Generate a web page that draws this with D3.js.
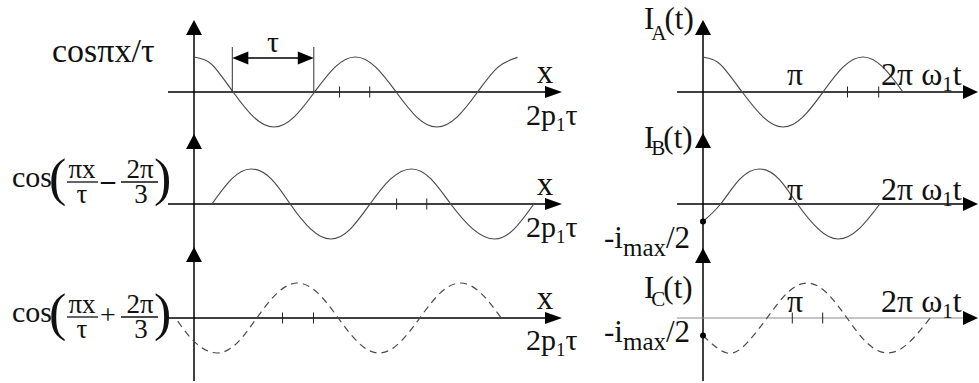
<!DOCTYPE html>
<html>
<head>
<meta charset="utf-8">
<script src="https://cdn.jsdelivr.net/npm/d3@7"></script>
<style>
  body { margin: 0; background: #fff; }
</style>
</head>
<body>
<svg id="chart" width="979" height="383"></svg>
<script>
// ---- Spatial distributions (x in units of the pole pitch τ) ----
const spaceXA = [0, 0.12, 0.25, 0.48, 0.73, 0.98, 1.23, 1.48, 1.73, 1.98, 2.23, 2.48, 2.73, 2.98, 3.23, 3.48, 3.73, 3.97];
const spaceYA = [1, 0.93, 0.71, 0, -0.71, -1, -0.71, 0, 0.71, 1, 0.71, 0, -0.71, -1, -0.71, 0, 0.71, 0.99];
const spaceXB = [0.22, 0.46, 0.7, 0.95, 1.18, 1.43, 1.68, 1.92, 2.16, 2.41, 2.67, 2.91, 3.15, 3.42, 3.69, 3.93, 4.17];
const spaceYB = [0, 0.71, 1, 0.71, 0, -0.71, -1, -0.71, 0, 0.71, 1, 0.71, 0, -0.71, -1, -0.71, 0];
const spaceXC = [-0.2, 0.02, 0.28, 0.53, 0.77, 1.02, 1.27, 1.52, 1.77, 2.02, 2.27, 2.52, 2.77, 3.02, 3.27, 3.52, 3.77];
const spaceYC = [-0.09, -0.71, -1, -0.71, 0, 0.71, 1, 0.71, 0, -0.71, -1, -0.71, 0, 0.71, 1, 0.71, 0];
const spaceTicksA = [1.78, 2.15];
const spaceTicksB = [2.48, 2.85];
const spaceTicksC = [1.08, 1.46];
const tauMarks = [0.47, 1.47];

// ---- Phase currents (ω1t in units of π), amplitude i_max = 1 ----
const iMax = 1;
const timeXA = [0, 0.12, 0.25, 0.49, 0.75, 1, 1.25, 1.5, 1.75, 2, 2.25, 2.5];
const timeYA = [1, 0.93, 0.71, 0, -0.71, -1, -0.71, 0, 0.71, 1, 0.71, 0];
const timeXB = [0, 0.22, 0.46, 0.71, 0.95, 1.18, 1.44, 1.69, 1.95, 2.21];
const timeYB = [-iMax / 2, 0, 0.71, 1, 0.71, 0, -0.71, -1, -0.71, 0];
const timeXC = [0, 0.3, 0.55, 0.8, 1.05, 1.3, 1.55, 1.8, 2.05, 2.31, 2.57, 2.84];
const timeYC = [-iMax / 2, -1, -0.71, 0, 0.71, 1, 0.71, 0, -0.71, -1, -0.71, 0];
const timeTicksA = [1.8, 2.19];
const timeTicksC = [1.11, 1.49];
const startDots = [-iMax / 2, -iMax / 2];

// ---- Labels ----
const spaceTitle = "cosπx/τ";
const axisLabelX = "x";
const axisLabelSpace = ["2p", "1", "τ"];
const fracNum = ["πx", "2π"];
const fracDen = ["τ", "3"];
const fracOps = ["–", "+"];
const currentNames = ["A", "B", "C"];
const halfLabel = ["-i", "max", "/2"];
const piLabel = "π";
const timeLabel = ["2π ω", "1", "t"];

const svg = d3.select("#chart");
const FONT = "Liberation Serif";

// every label is created through this helper so it carries the serif face
function label(parent, x, y, size) {
  return parent.append("text")
    .attr("x", x).attr("y", y)
    .attr("font-size", size)
    .attr("font-family", FONT)
    .style("font-family", `"${FONT}"`)
    .attr("fill", "#111");
}

const xL = d3.scaleLinear().domain([0, 1]).range([194, 275.5]);
const xR = d3.scaleLinear().domain([0, 1]).range([703, 783]);
const axisY = [92, 204, 318];
const amp = 35;
const yFor = (i) => d3.scaleLinear().domain([-1, 1]).range([axisY[i] + amp, axisY[i] - amp]);

function tri(pts) {
  return "M" + pts.map(p => p.join(",")).join("L") + "Z";
}
function upArrow(g, cx, tipY) {
  g.append("path").attr("d", tri([[cx, tipY], [cx - 8, tipY + 15], [cx + 8, tipY + 15]])).attr("fill", "#000");
}
function rightArrow(g, tipX, cy, len, hw) {
  g.append("path").attr("d", tri([[tipX, cy], [tipX - len, cy - hw], [tipX - len, cy + hw]])).attr("fill", "#000");
}
function leftArrow(g, tipX, cy, len, hw) {
  g.append("path").attr("d", tri([[tipX, cy], [tipX + len, cy - hw], [tipX + len, cy + hw]])).attr("fill", "#000");
}

function drawCurve(xs, ys, xScale, yScale, dashed) {
  const line = d3.line()
    .x(d => xScale(d[0]))
    .y(d => yScale(d[1]))
    .curve(d3.curveNatural);
  svg.append("path")
    .datum(d3.zip(xs, ys))
    .attr("d", line)
    .attr("fill", "none")
    .attr("stroke", "#4a4a4a")
    .attr("stroke-width", 1.2)
    .attr("stroke-dasharray", dashed ? "7,5" : null);
}

function drawTicks(ticks, xScale, y) {
  const ax = d3.axisBottom(xScale).tickValues(ticks).tickSize(11).tickFormat("");
  const g = svg.append("g").attr("transform", `translate(0,${y - 5.5})`).call(ax);
  g.select(".domain").remove();
  g.selectAll(".tick text").remove();
  g.selectAll(".tick line").attr("stroke", "#222").attr("stroke-width", 1);
}

// ---- Axes ----
const axes = svg.append("g");
axes.append("line").attr("x1", 194).attr("x2", 194).attr("y1", 24).attr("y2", 381).attr("stroke", "#000").attr("stroke-width", 1.5);
axes.append("line").attr("x1", 703).attr("x2", 703).attr("y1", 24).attr("y2", 381).attr("stroke", "#000").attr("stroke-width", 1.5);
[20, 134, 247].forEach(t => upArrow(axes, 194, t));
[20, 133, 248].forEach(t => upArrow(axes, 703, t));
axisY.forEach((y, i) => {
  axes.append("line").attr("x1", 168).attr("x2", 550).attr("y1", y).attr("y2", y).attr("stroke", "#000").attr("stroke-width", 1.5);
  rightArrow(axes, 562, y, 17, 6);
  axes.append("line").attr("x1", 677).attr("x2", 968).attr("y1", y).attr("y2", y)
    .attr("stroke", i === 2 ? "#8c8c8c" : "#000").attr("stroke-width", i === 2 ? 1.2 : 1.5);
  rightArrow(axes, 978, y, 15, 7);
});

// ---- Curves ----
drawCurve(spaceXA, spaceYA, xL, yFor(0), false);
drawCurve(spaceXB, spaceYB, xL, yFor(1), false);
drawCurve(spaceXC, spaceYC, xL, yFor(2), true);
drawCurve(timeXA, timeYA, xR, yFor(0), false);
drawCurve(timeXB, timeYB, xR, yFor(1), false);
drawCurve(timeXC, timeYC, xR, yFor(2), true);

drawTicks(spaceTicksA, xL, axisY[0]);
drawTicks(spaceTicksB, xL, axisY[1]);
drawTicks(spaceTicksC, xL, axisY[2]);
drawTicks(timeTicksA, xR, axisY[0]);
drawTicks(timeTicksC, xR, axisY[2]);

// start points of phases B and C at -i_max/2
svg.selectAll("circle.start").data(startDots).join("circle")
  .attr("class", "start")
  .attr("cx", xR(0))
  .attr("cy", (d, i) => yFor(i + 1)(d))
  .attr("r", 3)
  .attr("fill", "#000");

// ---- τ dimension ----
const tauG = svg.append("g");
tauMarks.forEach(t => {
  tauG.append("line").attr("x1", xL(t)).attr("x2", xL(t)).attr("y1", 47).attr("y2", axisY[0])
    .attr("stroke", "#333").attr("stroke-width", 1);
});
tauG.append("line").attr("x1", xL(tauMarks[0]) + 10).attr("x2", xL(tauMarks[1]) - 10)
  .attr("y1", 58).attr("y2", 58).attr("stroke", "#000").attr("stroke-width", 1.5);
leftArrow(tauG, xL(tauMarks[0]), 58, 16, 6.5);
rightArrow(tauG, xL(tauMarks[1]), 58, 16, 6.5);
label(tauG, (xL(tauMarks[0]) + xL(tauMarks[1])) / 2, 52, 30).attr("text-anchor", "middle").text("τ");

// ---- Left titles ----
label(svg, 52, 62, 34).text(spaceTitle);

function cosFraction(barY, op, opW) {
  const g = svg.append("g");
  label(g, 12, barY + 5, 30).text("cos");
  label(g, 49, barY + 13, 52).text("(");
  label(g, 82, barY - 4, 27).attr("text-anchor", "middle").text(fracNum[0]);
  g.append("line").attr("x1", 67).attr("x2", 98).attr("y1", barY).attr("y2", barY).attr("stroke", "#111").attr("stroke-width", 1.3);
  label(g, 82, barY + 21, 27).attr("text-anchor", "middle").text(fracDen[0]);
  label(g, 108, barY + 7, 28).attr("text-anchor", "middle").attr("font-weight", opW).text(op);
  label(g, 140, barY - 4, 27).attr("text-anchor", "middle").text(fracNum[1]);
  g.append("line").attr("x1", 121).attr("x2", 158).attr("y1", barY).attr("y2", barY).attr("stroke", "#111").attr("stroke-width", 1.3);
  label(g, 141, barY + 21, 27).attr("text-anchor", "middle").text(fracDen[1]);
  label(g, 154, barY + 13, 52).text(")");
}
cosFraction(182, fracOps[0], "bold");
cosFraction(317, fracOps[1], "normal");

// ---- Left axis labels ----
[83, 195, 309].forEach(b => {
  label(svg, 545, b, 33).attr("text-anchor", "middle").text(axisLabelX);
});
[125, 237, 350].forEach(b => {
  const t = label(svg, 526, b, 30);
  t.append("tspan").text(axisLabelSpace[0]);
  t.append("tspan").attr("font-size", 19).attr("dy", 6).text(axisLabelSpace[1]);
  t.append("tspan").attr("dy", -6).text(axisLabelSpace[2]);
});

// ---- Right labels ----
const nameBase = [29, 148, 298];
const subShift = [11, 7, 8];
currentNames.forEach((n, i) => {
  const t = label(svg, 644, nameBase[i], 31);
  t.append("tspan").text("I");
  t.append("tspan").attr("font-size", 21).attr("dx", -3).attr("dy", subShift[i]).text(n);
  t.append("tspan").attr("dx", -2).attr("dy", -subShift[i]).text("(t)");
});

[85, 200, 312].forEach(b => {
  label(svg, 795, b, 32).attr("text-anchor", "middle").text(piLabel);
  const t = label(svg, 881, b, 32);
  t.append("tspan").text(timeLabel[0]);
  t.append("tspan").attr("font-size", 21).attr("dy", 6).text(timeLabel[1]);
  t.append("tspan").attr("dy", -6).text(timeLabel[2]);
});

[248, 342].forEach(b => {
  const t = label(svg, 604, b, 31);
  t.append("tspan").text(halfLabel[0]);
  t.append("tspan").attr("font-size", 25).attr("dy", 8).text(halfLabel[1]);
  t.append("tspan").attr("dy", -8).text(halfLabel[2]);
});
</script>
</body>
</html>
